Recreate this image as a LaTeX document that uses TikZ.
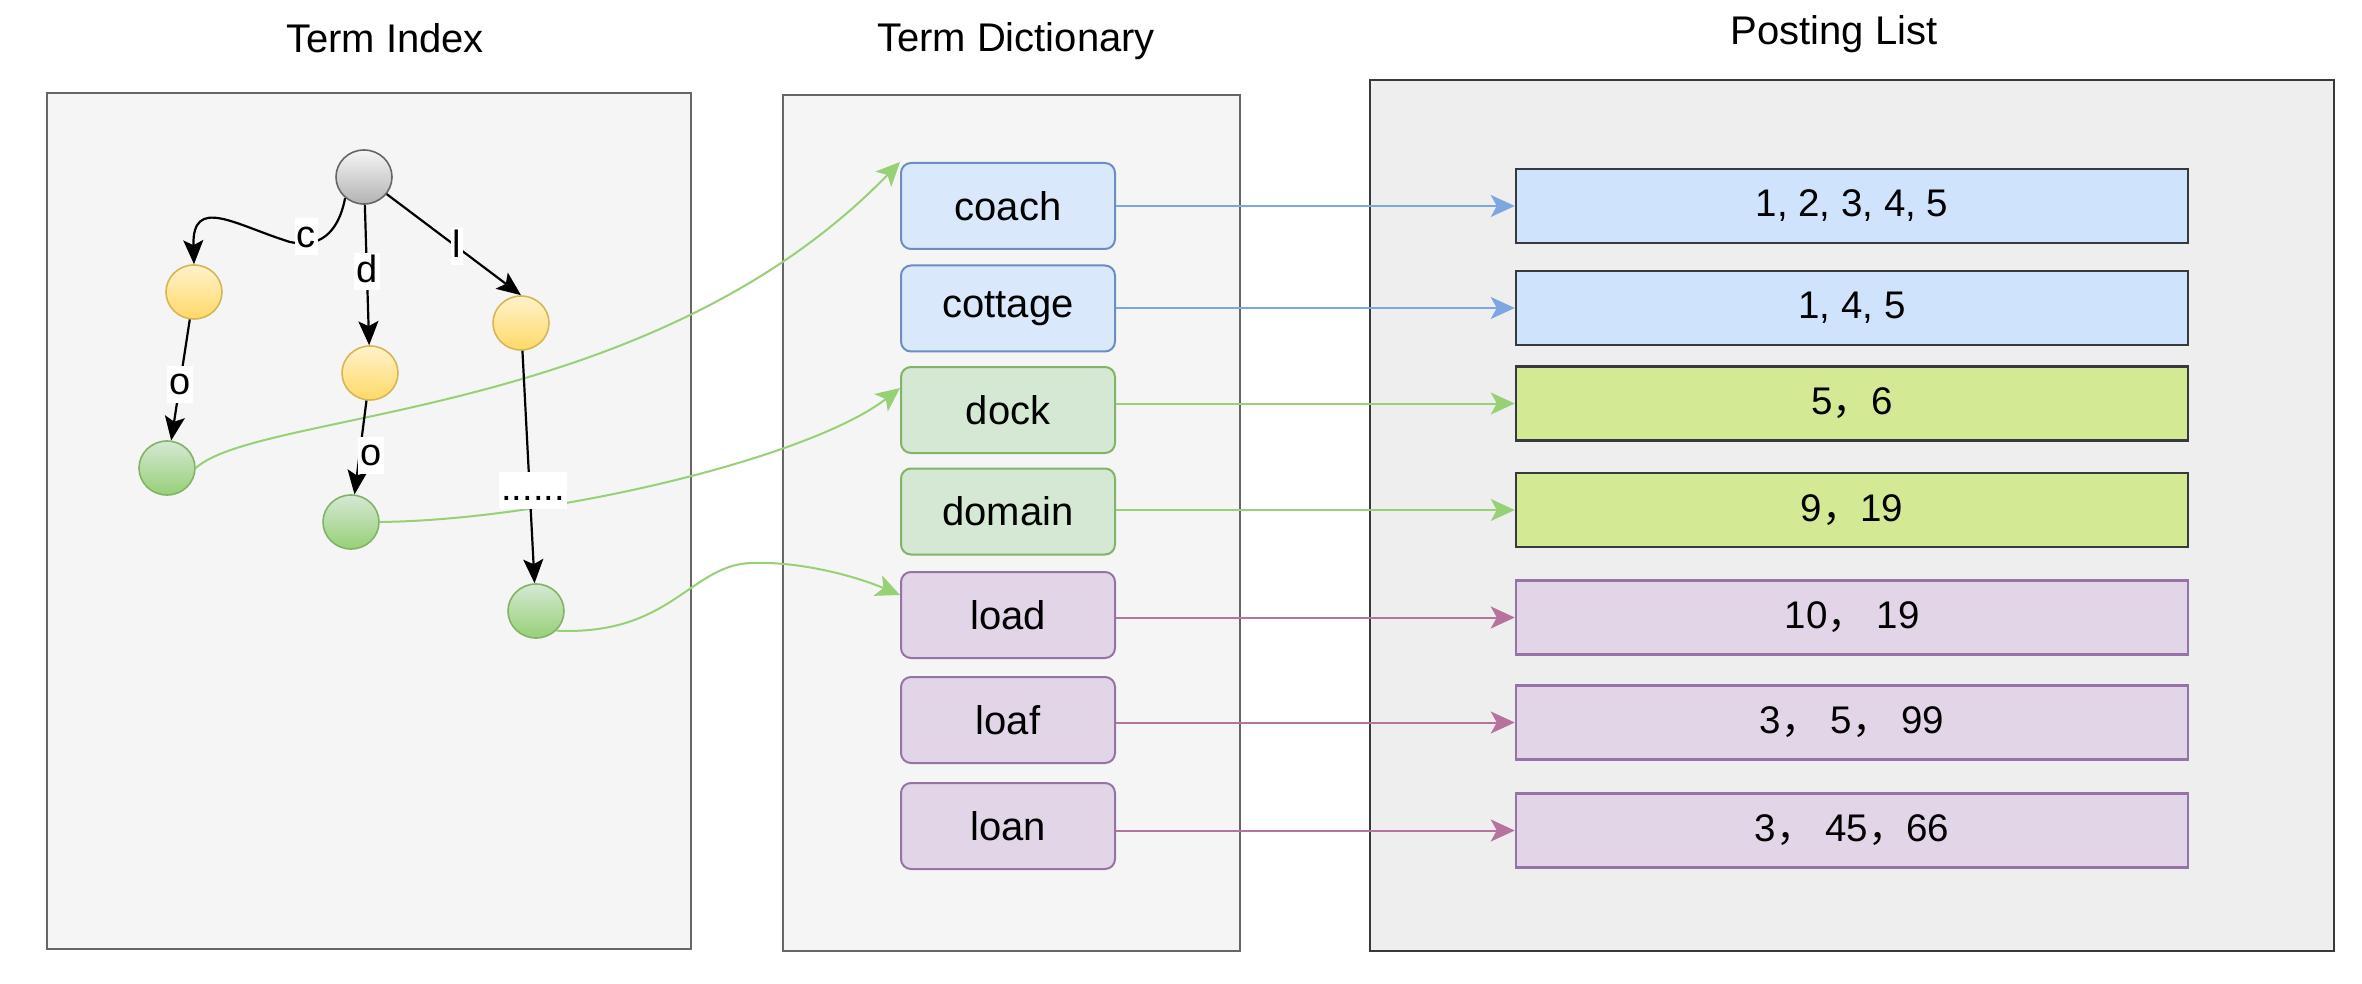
\documentclass[tikz,border=0pt]{standalone}
\usepackage{fontspec}
\setmainfont{Liberation Sans}
\newfontfamily\cjk{Noto Sans CJK SC}
\usetikzlibrary{shapes.geometric,arrows.meta,calc}
\definecolor{cpanel}{HTML}{F5F5F5}
\definecolor{cpanelS}{HTML}{666666}
\definecolor{ppanel}{HTML}{EEEEEE}
\definecolor{ppanelS}{HTML}{36393D}
\definecolor{tblue}{HTML}{DAE8FC}
\definecolor{tblueS}{HTML}{6C8EBF}
\definecolor{tgreen}{HTML}{D5E8D4}
\definecolor{tgreenS}{HTML}{82B366}
\definecolor{tpurp}{HTML}{E1D5E7}
\definecolor{tpurpS}{HTML}{9673A6}
\definecolor{pblue}{HTML}{CFE3FC}
\definecolor{pgreen}{HTML}{D4E994}
\definecolor{aBlue}{HTML}{7EA6E0}
\definecolor{aGreen}{HTML}{97D077}
\definecolor{aPurp}{HTML}{B5739D}
\definecolor{yTop}{HTML}{FFF2CC}
\definecolor{yBot}{HTML}{FFD966}
\definecolor{yStr}{HTML}{D6B656}
\definecolor{gTop}{HTML}{D5E8D4}
\definecolor{gBot}{HTML}{97D077}
\definecolor{gStr}{HTML}{82B366}
\definecolor{rTop}{HTML}{F5F5F5}
\definecolor{rBot}{HTML}{B3B3B3}
\definecolor{rStr}{HTML}{666666}
\newcommand\fwc{{\cjk ，}}
\begin{document}
\begin{tikzpicture}[x=1pt,y=-1pt,
  title/.style={font=\fontsize{40}{48}\selectfont, anchor=base, inner sep=0pt},
  panel/.style={rectangle, line width=2pt, inner sep=0pt},
  term/.style={rectangle, rounded corners=10pt, line width=2pt, minimum width=214pt, minimum height=86pt, font=\fontsize{40}{48}\selectfont, inner sep=0pt},
  post/.style={rectangle, line width=2.5pt, minimum width=672pt, minimum height=74pt, font=\fontsize{38.5}{46}\selectfont, inner sep=0pt},
  tnode/.style={ellipse, line width=1.6pt, minimum width=56pt, minimum height=54pt, inner sep=0pt},
  yel/.style={tnode, draw=yStr, top color=yTop, bottom color=yBot},
  grn/.style={tnode, draw=gStr, top color=gTop, bottom color=gBot},
  gry/.style={tnode, draw=rStr, top color=rTop, bottom color=rBot},
  tedge/.style={line width=2.2pt, -{Stealth[length=24pt,width=20pt,inset=5pt]}},
  lbl/.style={fill=white, inner sep=2pt, font=\fontsize{38}{44}\selectfont, text height=27pt, text depth=6pt},
  carr/.style={line width=2pt, -{Stealth[length=24pt,width=22pt,inset=6pt]}},
]
\useasboundingbox (0,0) rectangle (2362,984);
\fill[white] (0,0) rectangle (2362,984);

% panels
\node[panel, draw=cpanelS, fill=cpanel, minimum width=644pt, minimum height=856pt] (tipanel) at (369,521) {};
\node[panel, draw=cpanelS, fill=cpanel, minimum width=457pt, minimum height=856pt] (tdpanel) at (1011.5,523) {};
\node[panel, draw=ppanelS, fill=ppanel, line width=2.5pt, minimum width=964pt, minimum height=871pt] (plpanel) at (1852,515.5) {};

% titles
\node[title] (t1) at (385,53) {Term Index};
\node[title] (t2) at (1016,52) {Term Dictionary};
\node[title] (t3) at (1834,45) {Posting List};

% term dictionary
\node[term, draw=tblueS, fill=tblue] (coach) at (1008,206) {coach};
\node[term, draw=tblueS, fill=tblue] (cottage) at (1008,308.5) {cottage};
\node[term, draw=tgreenS, fill=tgreen] (dock) at (1008,410) {dock};
\node[term, draw=tgreenS, fill=tgreen] (domain) at (1008,511.5) {domain};
\node[term, draw=tpurpS, fill=tpurp] (load) at (1008,615) {load};
\node[term, draw=tpurpS, fill=tpurp] (loaf) at (1008,720) {loaf};
\node[term, draw=tpurpS, fill=tpurp] (loan) at (1008,826) {loan};

% posting list
\node[post, draw=ppanelS, fill=pblue] (p1) at (1852,206) {1, 2, 3, 4, 5};
\node[post, draw=ppanelS, fill=pblue] (p2) at (1852,308) {1, 4, 5};
\node[post, draw=ppanelS, fill=pgreen] (p3) at (1852,403.5) {5\fwc 6};
\node[post, draw=ppanelS, fill=pgreen] (p4) at (1852,510) {9\fwc 19};
\node[post, draw=tpurpS, fill=tpurp] (p5) at (1852,617.5) {10\fwc\ 19};
\node[post, draw=tpurpS, fill=tpurp] (p6) at (1852,722.5) {3\fwc\ 5\fwc\ 99};
\node[post, draw=tpurpS, fill=tpurp] (p7) at (1852,830.5) {3\fwc\ 45\fwc 66};

% dictionary -> posting arrows
\draw[carr, aBlue] (coach.east |- p1.west) -- (p1.west);
\draw[carr, aBlue] (cottage.east |- p2.west) -- (p2.west);
\draw[carr, aGreen] (dock.east |- p3.west) -- (p3.west);
\draw[carr, aGreen] (domain.east |- p4.west) -- (p4.west);
\draw[carr, aPurp] (load.east |- p5.west) -- (p5.west);
\draw[carr, aPurp] (loaf.east |- p6.west) -- (p6.west);
\draw[carr, aPurp] (loan.east |- p7.west) -- (p7.west);

% tree nodes
\node[gry] (root) at (364,177) {};
\node[yel] (yc) at (194,292) {};
\node[yel] (yd) at (370,373) {};
\node[yel] (yl) at (521,323) {};
\node[grn] (gco) at (167,468) {};
\node[grn] (gdo) at (351,522) {};
\node[grn] (gl) at (536,611) {};

% index -> dictionary curves
\draw[carr, aGreen] (gco.east) .. controls (260,410) and (650,420) .. (coach.north west);
\draw[carr, aGreen] (gdo.east) .. controls (550,520) and (810,458) .. ($(dock.north west)+(0,22)$);
\draw[carr, aGreen] (gl.south east) .. controls (670,636) and (690,566) .. (750,563)
   .. controls (800,561) and (855,576) .. ($(load.west)+(0,-20)$);

% tree edges
\draw[tedge] (root.228) .. controls (338,235) and (318,248) .. (290,242)
   .. controls (235,225) and (192,195) .. (yc.north);
\draw[tedge] (root) -- (yd);
\draw[tedge] (root) -- (yl.north);
\draw[tedge] (yc) -- (gco);
\draw[tedge] (yd) -- (gdo);
\draw[tedge] (yl) -- (gl);

% edge labels
\node[lbl] (lc) at (306,237) {c};
\node[lbl] (ld) at (367,272) {d};
\node[lbl] (ll) at (457,247) {l};
\node[lbl] (lo1) at (180,384) {o};
\node[lbl] (lo2) at (371,455) {o};
\node[lbl] (ldots) at (533,490) {......};
\end{tikzpicture}
\end{document}
